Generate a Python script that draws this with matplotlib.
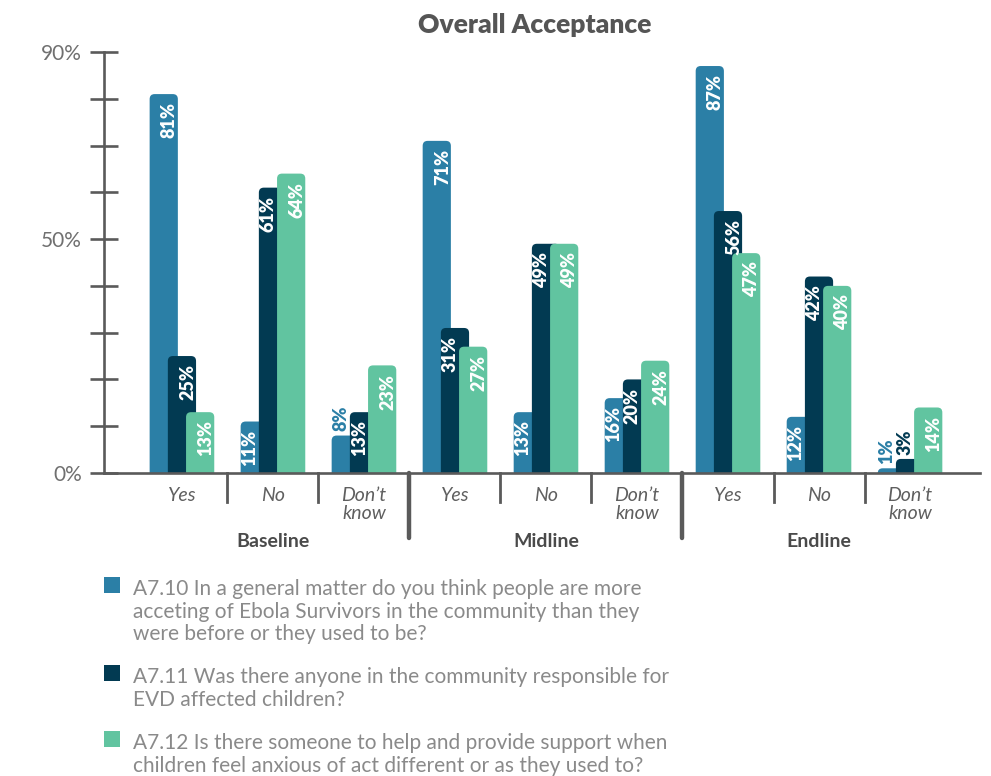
import matplotlib.pyplot as plt
import matplotlib.transforms as mtransforms
from matplotlib.patches import FancyBboxPatch, Rectangle
import numpy as np

plt.rcParams['font.family'] = ['Lato', 'DejaVu Sans']

# survey rounds and answers
rounds = ['Baseline', 'Midline', 'Endline']
answers = ['Yes', 'No', 'Don\u2019t\nknow']

# share of respondents (%), per round: Yes, No, Don't know
a710 = [81, 11, 8, 71, 13, 16, 87, 12, 1]
a711 = [25, 61, 13, 31, 49, 20, 56, 42, 3]
a712 = [13, 64, 23, 27, 49, 24, 47, 40, 14]

questions = [
    'A7.10 In a general matter do you think people are more\nacceting of Ebola Survivors in the community than they\nwere before or they used to be?',
    'A7.11 Was there anyone in the community responsible for\nEVD affected children?',
    'A7.12 Is there someone to help and provide support when\nchildren feel anxious of act different or as they used to?',
]
colors = ['#2B7FA6', '#023A52', '#61C4A0']
axis_grey = '#5a5a5a'

fig = plt.figure(figsize=(9.91, 7.76), dpi=100)
ax = fig.add_axes([0.1049, 0.3905, 0.884, 0.5425])

x = np.arange(len(a710))
offsets = [-0.2, 0.0, 0.2]
width = 0.31
ax.set_xlim(-0.857, 8.769)
ax.set_ylim(0, 90)

# rounded top corners: radius in px converted to data units on each axis
px_x = 91.0
px_y = 4.68
rad = 5
r_x = rad / px_x
asp = px_x / px_y
r_y = r_x * asp

series_all = [a710, a711, a712]
for k, series in enumerate(series_all):
    for i, (xi, v) in enumerate(zip(x, series)):
        left = xi + offsets[k] - width / 2
        bar = FancyBboxPatch((left, -r_y), width, v + r_y,
                             boxstyle=f'round,pad=0,rounding_size={r_x}',
                             mutation_aspect=asp, fc=colors[k], ec='none',
                             zorder=2 + k)
        ax.add_patch(bar)

        # put the label in the part of the bar the next bar leaves uncovered
        covered = k < 2 and series_all[k + 1][i] > v - 9
        dx = -3.5 if covered else 4
        inside = v >= 10
        ax.annotate(f'{v}%', (xi + offsets[k], v),
                    xytext=(dx, -6 if inside else 3),
                    textcoords='offset points', rotation=90, ha='center',
                    va='top' if inside else 'bottom',
                    color='white' if inside else colors[k],
                    fontsize=13, fontweight='heavy', zorder=10)

# axes styling
for s in ['top', 'right']:
    ax.spines[s].set_visible(False)
for s in ['left', 'bottom']:
    ax.spines[s].set_color(axis_grey)
    ax.spines[s].set_linewidth(1.9)
ax.spines['bottom'].set_zorder(50)

ax.set_yticks(np.arange(0, 91, 10))
ax.set_yticklabels([f'{t}%' if t in (0, 50, 90) else '' for t in range(0, 91, 10)])
ax.tick_params(axis='y', direction='inout', length=20, width=1.9,
               color=axis_grey, labelcolor='#707070', labelsize=15, pad=6)

ax.set_xticks(x)
ax.set_xticklabels(answers * 3, style='italic', fontsize=14,
                   color='#5f5f5f', linespacing=1.1)
ax.tick_params(axis='x', length=0, pad=10)

# separators under the x axis
trans = mtransforms.blended_transform_factory(ax.transData, ax.transAxes)
for b in np.arange(0.5, 8, 1.0):
    if b in (2.5, 5.5):
        ax.plot([b, b], [0, -0.155], color=axis_grey, lw=3.2,
                solid_capstyle='round', transform=trans, clip_on=False)
    else:
        ax.plot([b, b], [0, -0.07], color=axis_grey, lw=2.0,
                transform=trans, clip_on=False)

for g, name in enumerate(rounds):
    ax.text(g * 3 + 1, -0.162, name, transform=trans, ha='center',
            va='center', fontsize=14, fontweight='bold', color='#4a4a4a')

fig.text(0.54, 0.968, 'Overall Acceptance', ha='center', va='center',
         fontsize=19, fontweight='heavy', color='#555555')

# legend block
top_px = 577
line_px = 22
for k, q in enumerate(questions):
    y = 1 - top_px / 776
    fig.patches.append(Rectangle((104 / 991, y - 16 / 776), 16 / 991, 16 / 776,
                                 transform=fig.transFigure, fc=colors[k],
                                 ec='none'))
    fig.text(133 / 991, y - 2 / 776, q, ha='left', va='top', fontsize=15,
             color='#8a8a8a', linespacing=1.17)
    top_px += line_px * (q.count('\n') + 1) + 22

fig.savefig('out.png', dpi=100)
plt.close()
